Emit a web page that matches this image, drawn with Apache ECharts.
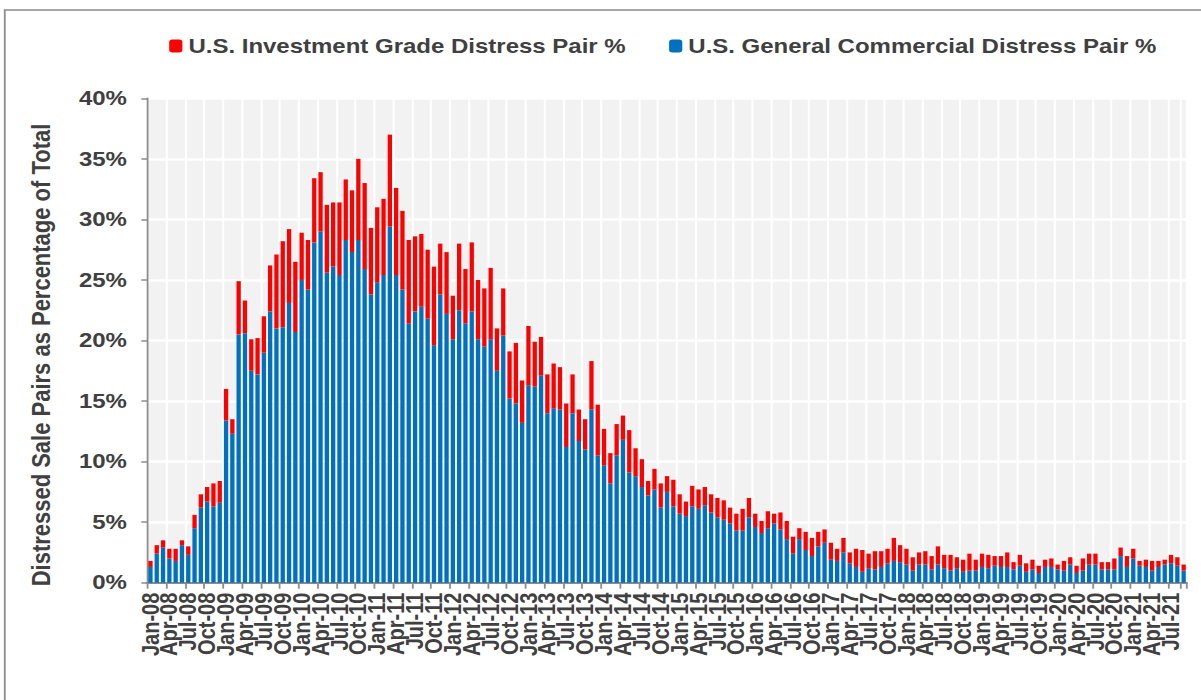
<!DOCTYPE html>
<html>
<head>
<meta charset="utf-8">
<script src="https://cdn.jsdelivr.net/npm/echarts@6/dist/echarts.min.js"></script>
<style>
    html, body { margin: 0; padding: 0; background: #fff; overflow: hidden; }
    /* the source picture is a horizontally stretched screenshot, so draw narrower and widen */
    #chartDiv { width: 1001px; height: 700px; transform: scaleX(1.2); transform-origin: 0 0; }
</style>
</head>
<body>
<div id="chartDiv"></div>
<script>
    var monthNames = ['Jan', 'Feb', 'Mar', 'Apr', 'May', 'Jun', 'Jul', 'Aug', 'Sep', 'Oct', 'Nov', 'Dec'];
    var firstYear = 2008;
    var monthCount = 165; // Jan-08 .. Sep-21

    // U.S. General Commercial Distress Pair % (blue, bottom of stack)
    var generalCommercial = [
        1.3, 2.4, 2.9, 2.0, 1.8, 3.1, 2.3, 4.5, 6.2, 6.7, 6.3, 6.6,
        13.4, 12.3, 20.5, 20.6, 17.5, 17.2, 19.0, 22.4, 21.0, 21.1, 23.1, 20.7,
        25.0, 24.2, 28.1, 29.0, 25.6, 26.1, 25.4, 28.3, 27.3, 28.3, 25.9, 23.8,
        24.8, 25.4, 29.4, 25.4, 24.2, 21.4, 22.4, 22.8, 21.8, 19.6, 23.8, 22.2,
        20.1, 22.5, 21.4, 22.4, 20.1, 19.5, 20.1, 17.5, 20.4, 15.2, 14.8, 13.2,
        16.3, 16.2, 17.1, 14.0, 14.4, 14.3, 11.2, 14.0, 11.7, 11.0, 14.3, 10.5,
        9.7, 8.2, 10.5, 11.8, 9.1, 8.8, 7.9, 7.2, 7.7, 6.2, 7.5, 6.3,
        5.7, 5.5, 6.3, 6.1, 6.4, 5.8, 5.4, 5.2, 4.9, 4.3, 4.3, 5.4,
        4.6, 4.1, 4.5, 4.9, 4.4, 3.6, 2.4, 3.6, 2.7, 2.2, 3.0, 3.3,
        1.9, 1.8, 2.5, 1.6, 1.3, 0.9, 1.2, 1.1, 1.3, 1.6, 1.8, 1.7,
        1.5, 1.0, 1.5, 1.5, 1.1, 1.5, 1.2, 1.0, 1.2, 0.9, 1.0, 1.0,
        1.3, 1.2, 1.4, 1.3, 1.3, 1.1, 1.4, 0.9, 1.1, 0.8, 1.3, 1.3,
        1.1, 1.0, 1.5, 0.8, 1.0, 1.5, 1.5, 1.1, 1.1, 1.1, 2.2, 1.3,
        2.0, 1.4, 1.3, 1.0, 1.3, 1.5, 1.6, 1.4, 1.0
    ];

    // U.S. Investment Grade Distress Pair % (red, stacked on top)
    var investmentGrade = [
        0.5, 0.7, 0.6, 0.8, 1.0, 0.4, 0.7, 1.1, 1.1, 1.2, 1.9, 1.8,
        2.6, 1.2, 4.4, 2.7, 2.6, 3.0, 3.0, 3.8, 6.1, 7.1, 6.1, 5.8,
        3.9, 4.1, 5.3, 4.9, 5.6, 5.3, 6.0, 5.0, 5.1, 6.7, 7.1, 5.5,
        6.2, 6.3, 7.6, 7.2, 6.5, 6.9, 6.2, 6.0, 5.7, 6.5, 4.2, 5.1,
        3.6, 5.5, 4.5, 5.7, 4.9, 4.8, 5.9, 3.5, 3.9, 3.9, 5.0, 3.5,
        4.9, 3.7, 3.2, 3.2, 3.7, 3.5, 3.6, 3.2, 2.6, 2.5, 4.0, 4.2,
        3.0, 2.5, 2.6, 2.0, 3.5, 2.3, 2.3, 1.2, 1.7, 2.0, 1.3, 2.2,
        1.6, 1.2, 1.7, 1.6, 1.5, 1.5, 1.6, 1.6, 1.3, 1.4, 1.8, 1.6,
        1.1, 1.0, 1.4, 0.8, 1.4, 1.5, 1.4, 0.9, 1.5, 1.5, 1.2, 1.1,
        1.4, 1.0, 1.2, 0.9, 1.5, 1.8, 1.2, 1.5, 1.3, 1.2, 1.9, 1.4,
        1.3, 1.1, 1.0, 1.1, 1.1, 1.5, 1.1, 1.3, 0.9, 1.0, 1.4, 0.9,
        1.1, 1.1, 0.8, 0.9, 1.2, 0.6, 0.9, 0.7, 0.8, 0.6, 0.6, 0.7,
        0.4, 0.8, 0.6, 0.6, 1.0, 0.9, 0.9, 0.6, 0.6, 0.9, 0.7, 0.9,
        0.8, 0.4, 0.6, 0.8, 0.5, 0.4, 0.7, 0.7, 0.5
    ];

    var categories = [];
    for (var i = 0; i < monthCount; i++) {
        var yy = String((firstYear + Math.floor(i / 12)) % 100);
        if (yy.length < 2) yy = '0' + yy;
        categories.push(monthNames[i % 12] + '-' + yy);
    }

    var textColor = '#404040';
    var fontName = 'Liberation Sans, Arial, sans-serif';

    var chart = echarts.init(document.getElementById('chartDiv'), null, { renderer: 'svg' });
    chart.setOption({
        animation: false,
        textStyle: { fontFamily: fontName },
        graphic: [
            {
                type: 'rect', silent: true, z: -10,
                shape: { x: 4, y: 10, width: 1200, height: 800 },
                style: { fill: 'none', stroke: '#8c8c8c', lineWidth: 1.5 }
            },
            {
                type: 'text', x: 34, y: 355, rotation: Math.PI / 2,
                style: {
                    text: 'Distressed Sale Pairs as Percentage of Total',
                    fill: textColor, font: 'bold 22px ' + fontName,
                    align: 'center', verticalAlign: 'middle'
                }
            }
        ],
        legend: {
            data: ['U.S. Investment Grade Distress Pair %', 'U.S. General Commercial Distress Pair %'],
            left: 136, top: 31,
            itemWidth: 11, itemHeight: 13, itemGap: 36,
            textStyle: { color: textColor, fontSize: 20, fontWeight: 'bold', fontFamily: fontName }
        },
        grid: {
            left: 122.75, right: 12, top: 98.3, bottom: 117.3,
            show: true, backgroundColor: '#f2f2f2', borderWidth: 0
        },
        xAxis: {
            type: 'category',
            data: categories,
            boundaryGap: true,
            axisLine: { lineStyle: { color: '#8c8c8c', width: 2 } },
            axisTick: { show: true, interval: 2, length: 6, lineStyle: { color: '#8c8c8c', width: 1.5 } },
            axisLabel: {
                // every month gets a slot, only each 3rd one is labelled
                interval: 0, rotate: 90, margin: 10,
                showMinLabel: true, showMaxLabel: true, hideOverlap: false,
                formatter: function (value, index) {
                    return index % 3 === 0 ? value : '';
                },
                color: textColor, fontSize: 20, fontWeight: 'bold', fontFamily: fontName
            },
            splitLine: { show: true, interval: 2, lineStyle: { color: '#ffffff', width: 1.7 } }
        },
        yAxis: {
            type: 'value',
            min: 0, max: 40, interval: 5,
            axisLine: { show: true, lineStyle: { color: '#8c8c8c', width: 1.5 } },
            axisTick: { show: true, length: 5, lineStyle: { color: '#8c8c8c', width: 1.5 } },
            axisLabel: {
                formatter: '{value}%', margin: 17,
                color: textColor, fontSize: 20, fontWeight: 'bold', fontFamily: fontName
            },
            splitLine: { show: true, lineStyle: { color: '#ffffff', width: 2.5 } }
        },
        series: [
            {
                name: 'U.S. General Commercial Distress Pair %',
                type: 'bar', stack: 'total',
                data: generalCommercial,
                barCategoryGap: '32%',
                itemStyle: { color: '#0070c0' }
            },
            {
                name: 'U.S. Investment Grade Distress Pair %',
                type: 'bar', stack: 'total',
                data: investmentGrade,
                barCategoryGap: '32%',
                itemStyle: { color: '#ff0000' }
            }
        ]
    });
</script>
</body>
</html>
